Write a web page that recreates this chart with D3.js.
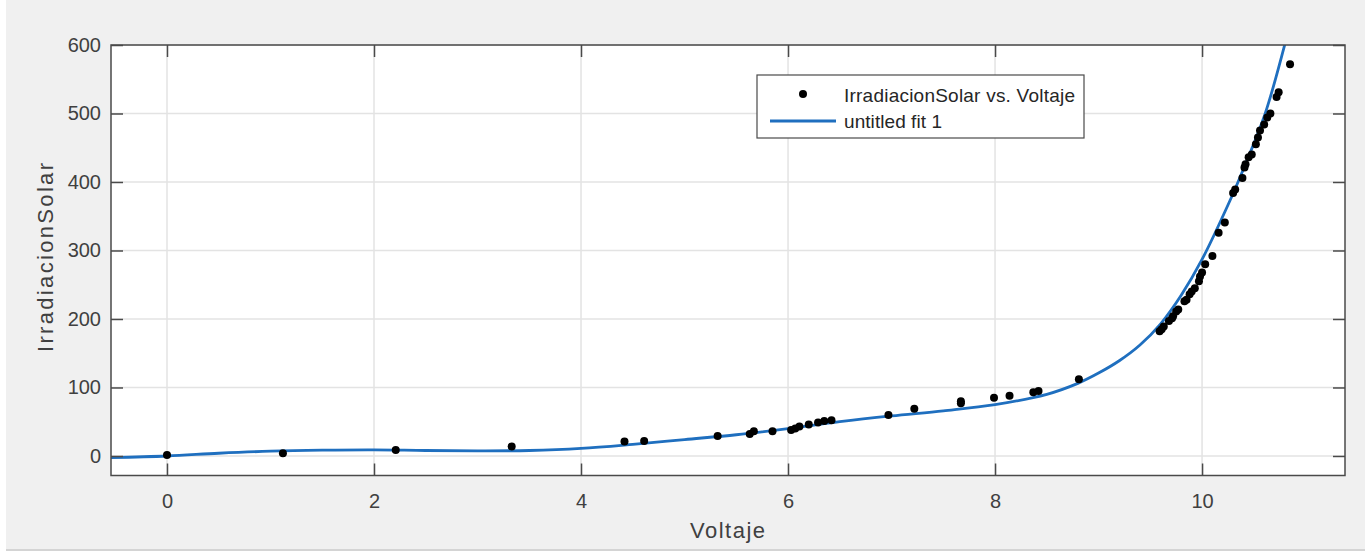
<!DOCTYPE html>
<html>
<head>
<meta charset="utf-8">
<script src="https://cdn.jsdelivr.net/npm/d3@7"></script>
<style>
  html, body { margin: 0; padding: 0; background: #ffffff; }
  svg { display: block; font-family: 'Liberation Sans', Arial, sans-serif; }
</style>
</head>
<body>
<div id="chart"></div>
<script>
// measured data (IrradiacionSolar vs. Voltaje)
const voltaje = [0, 1.12, 2.21, 3.33, 4.42, 4.61, 5.32, 5.63, 5.67, 5.85, 6.03, 6.07, 6.11, 6.2, 6.29, 6.35, 6.42,
  6.97, 7.22, 7.67, 7.67, 7.99, 8.14, 8.37, 8.42, 8.81,
  9.59, 9.61, 9.63, 9.68, 9.71, 9.72, 9.75, 9.77, 9.83, 9.85, 9.88, 9.9, 9.93, 9.97, 9.98, 10.0, 10.03, 10.1,
  10.16, 10.22, 10.3, 10.32, 10.39, 10.41, 10.42, 10.45, 10.48, 10.52, 10.54, 10.56, 10.6, 10.63, 10.66,
  10.72, 10.74, 10.85];
const irradiacion = [1.5, 4, 8.8, 13.7, 21, 22, 29, 32, 36, 36, 38, 40, 43, 46, 49, 51, 52,
  60, 69, 80, 77, 85, 88, 93, 95, 112,
  182, 185, 189, 197, 201, 204, 211, 214, 226, 228, 236, 240, 245, 255, 262, 268, 280, 292,
  326, 341, 384, 389, 406, 421, 426, 436, 440, 455, 465, 475, 484, 494, 500,
  524, 531, 572];

// fitted curve ("untitled fit 1")
const fitVoltaje = [-0.6, 0, 0.5, 1.0, 1.5, 2.0, 2.5, 3.0, 3.5, 4.0, 4.5, 5.0, 5.5, 6.0, 6.5, 7.0, 7.5, 8.0,
  8.5, 8.8, 9.0, 9.2, 9.4, 9.6, 9.8, 10.0, 10.27, 10.4, 10.61, 10.8, 10.9];
const fitIrradiacion = [-2.5, 0, 4, 7, 8.5, 9, 8, 7.5, 8, 11, 17, 24, 31, 40, 50, 58.5, 66, 75,
  90, 106, 121, 139, 162, 193, 235, 287, 373, 419, 500, 601, 660];

const xTicks = [0, 2, 4, 6, 8, 10];
const yTicks = [0, 100, 200, 300, 400, 500, 600];

const width = 1371;
const height = 554;
const plot = { left: 111, right: 1345, top: 45, bottom: 475.5 };

const svg = d3.select('#chart')
  .append('svg')
  .attr('width', width)
  .attr('height', height);

// figure background
svg.append('rect')
  .attr('x', 6).attr('y', 0)
  .attr('width', 1359).attr('height', 549)
  .attr('fill', '#f0f0f0');
svg.append('rect')
  .attr('x', 6).attr('y', 549)
  .attr('width', 1359).attr('height', 2)
  .attr('fill', '#d4d4d4');

const x = d3.scaleLinear().domain([-0.541, 11.381]).range([plot.left, plot.right]);
const y = d3.scaleLinear().domain([-28.5, 600]).range([plot.bottom, plot.top]);

svg.append('rect')
  .attr('x', plot.left).attr('y', plot.top)
  .attr('width', plot.right - plot.left).attr('height', plot.bottom - plot.top)
  .attr('fill', '#ffffff');

// grid
const grid = svg.append('g').attr('stroke', '#e3e3e3').attr('stroke-width', 1.5);
grid.selectAll('line.gx')
  .data(xTicks)
  .enter()
  .append('line')
  .attr('x1', d => x(d)).attr('x2', d => x(d))
  .attr('y1', plot.top).attr('y2', plot.bottom);
grid.selectAll('line.gy')
  .data(yTicks)
  .enter()
  .append('line')
  .attr('x1', plot.left).attr('x2', plot.right)
  .attr('y1', d => y(d)).attr('y2', d => y(d));

svg.append('clipPath').attr('id', 'clip')
  .append('rect')
  .attr('x', plot.left).attr('y', plot.top)
  .attr('width', plot.right - plot.left).attr('height', plot.bottom - plot.top);

// fit line
const line = d3.line()
  .x((d, i) => x(fitVoltaje[i]))
  .y(d => y(d))
  .curve(d3.curveCatmullRom.alpha(0.5));

svg.append('path')
  .datum(fitIrradiacion)
  .attr('clip-path', 'url(#clip)')
  .attr('fill', 'none')
  .attr('stroke', '#1f6fbf')
  .attr('stroke-width', 2.8)
  .attr('d', line);

// scatter
svg.append('g')
  .attr('clip-path', 'url(#clip)')
  .selectAll('circle')
  .data(voltaje)
  .enter()
  .append('circle')
  .attr('cx', d => x(d))
  .attr('cy', (d, i) => y(irradiacion[i]))
  .attr('r', 4)
  .attr('fill', '#000000');

// axes (box with inward ticks on all sides)
const tickLen = 12;
const axisColor = '#4a4a4a';

svg.append('g')
  .attr('transform', `translate(0, ${plot.bottom})`)
  .call(d3.axisBottom(x).tickValues(xTicks).tickSizeInner(-tickLen).tickSizeOuter(0).tickPadding(18))
  .call(g => g.select('.domain').remove());
svg.append('g')
  .attr('transform', `translate(0, ${plot.top})`)
  .call(d3.axisTop(x).tickValues(xTicks).tickSizeInner(-tickLen).tickSizeOuter(0).tickFormat(''))
  .call(g => g.select('.domain').remove());
svg.append('g')
  .attr('transform', `translate(${plot.left}, 0)`)
  .call(d3.axisLeft(y).tickValues(yTicks).tickSizeInner(-tickLen).tickSizeOuter(0).tickPadding(10))
  .call(g => g.select('.domain').remove());
svg.append('g')
  .attr('transform', `translate(${plot.right}, 0)`)
  .call(d3.axisRight(y).tickValues(yTicks).tickSizeInner(-tickLen).tickSizeOuter(0).tickFormat(''))
  .call(g => g.select('.domain').remove());

svg.selectAll('.tick line').attr('stroke', axisColor).attr('stroke-width', 1.5);
svg.selectAll('.tick text')
  .attr('font-size', 20)
  .attr('font-family', "'Liberation Sans', Arial, sans-serif")
  .attr('fill', '#404040');

svg.append('rect')
  .attr('x', plot.left).attr('y', plot.top)
  .attr('width', plot.right - plot.left).attr('height', plot.bottom - plot.top)
  .attr('fill', 'none')
  .attr('stroke', axisColor)
  .attr('stroke-width', 1.5);

// axis titles
svg.append('text')
  .attr('x', 727.5)
  .attr('y', 538)
  .attr('text-anchor', 'middle')
  .attr('font-size', 22)
  .attr('fill', '#404040')
  .attr('textLength', 75)
  .text('Voltaje');

svg.append('text')
  .attr('transform', 'translate(53, 257.5) rotate(-90)')
  .attr('text-anchor', 'middle')
  .attr('font-size', 22)
  .attr('fill', '#404040')
  .attr('textLength', 189)
  .text('IrradiacionSolar');

// legend
const legend = svg.append('g');
legend.append('rect')
  .attr('x', 757).attr('y', 75)
  .attr('width', 327).attr('height', 63)
  .attr('fill', '#ffffff')
  .attr('stroke', axisColor)
  .attr('stroke-width', 1.2);
legend.append('circle')
  .attr('cx', 803).attr('cy', 94)
  .attr('r', 4)
  .attr('fill', '#000000');
legend.append('line')
  .attr('x1', 770).attr('x2', 836)
  .attr('y1', 121).attr('y2', 121)
  .attr('stroke', '#1f6fbf')
  .attr('stroke-width', 2.8);
legend.append('text')
  .attr('x', 844).attr('y', 101.5)
  .attr('font-size', 19)
  .attr('fill', '#262626')
  .attr('textLength', 231)
  .text('IrradiacionSolar vs. Voltaje');
legend.append('text')
  .attr('x', 844).attr('y', 128)
  .attr('font-size', 19)
  .attr('fill', '#262626')
  .attr('textLength', 98)
  .text('untitled fit 1');
</script>
</body>
</html>
